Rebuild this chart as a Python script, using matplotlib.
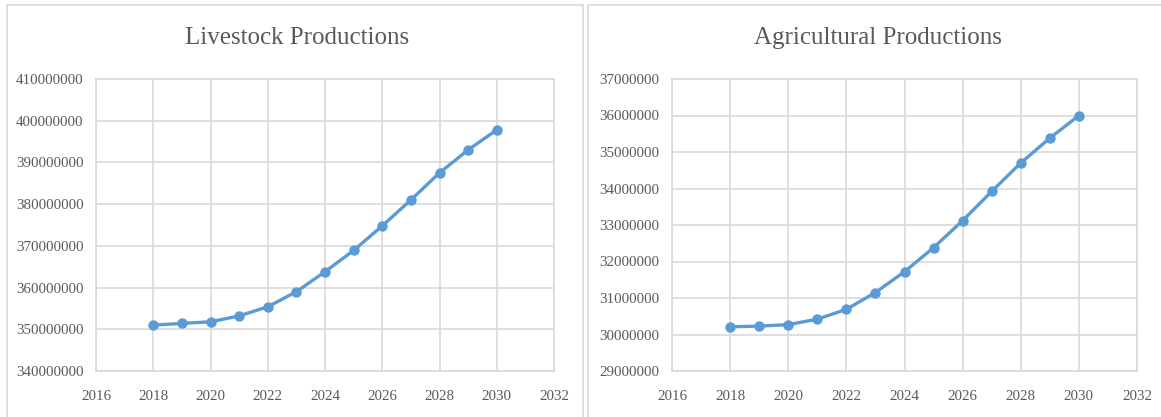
import matplotlib.pyplot as plt
from matplotlib.patches import Rectangle
from matplotlib.ticker import FuncFormatter

years = [2018, 2019, 2020, 2021, 2022, 2023, 2024, 2025, 2026, 2027, 2028, 2029, 2030]
livestock = [351.0e6, 351.4e6, 351.8e6, 353.2e6, 355.4e6, 359.0e6, 363.8e6,
             368.9e6, 374.8e6, 381.0e6, 387.5e6, 393.0e6, 397.8e6]
agricultural = [30.21e6, 30.23e6, 30.27e6, 30.42e6, 30.69e6, 31.15e6, 31.72e6,
                32.38e6, 33.12e6, 33.92e6, 34.70e6, 35.38e6, 36.00e6]

plt.rcParams['font.family'] = ['Liberation Serif', 'DejaVu Serif']
txt = '#595959'
grid = '#D9D9D9'
blue = '#5B9BD5'

W, H = 1161, 417
fig = plt.figure(figsize=(W / 100, H / 100), dpi=100)

# panel frames
for x0, x1 in [(7, 583), (588, 1175)]:
    fig.patches.append(Rectangle((x0 / W, -0.01), (x1 - x0) / W, (H - 5) / H + 0.01,
                                 transform=fig.transFigure, fill=False,
                                 edgecolor='#D9D9D9', lw=1.2))


def panel(rect, data, ylim, step, title, tx):
    ax = fig.add_axes([rect[0] / W, 1 - rect[3] / H, (rect[2] - rect[0]) / W, (rect[3] - rect[1]) / H])
    ax.plot(years, data, color=blue, lw=2.4, marker='o', ms=6.5, zorder=3)
    ax.set_xlim(2016, 2032)
    ax.set_ylim(*ylim)
    ax.set_xticks(range(2016, 2033, 2))
    ax.set_yticks(range(int(ylim[0]), int(ylim[1]) + 1, step))
    ax.yaxis.set_major_formatter(FuncFormatter(lambda v, p: f'{int(v)}'))
    ax.grid(True, color=grid, lw=1.2)
    ax.set_axisbelow(True)
    for s in ax.spines.values():
        s.set_color(grid)
        s.set_linewidth(1.2)
    ax.tick_params(length=0, labelsize=10.8, labelcolor=txt)
    ax.tick_params(axis='y', pad=9)
    ax.tick_params(axis='x', pad=14)
    fig.text(tx / W, 1 - 38 / H, title, ha='center', va='center', fontsize=18, color=txt)
    return ax


panel((96, 79, 554, 371), livestock, (340e6, 410e6), 10_000_000, 'Livestock Productions', 297)
panel((672, 79, 1137, 371), agricultural, (29e6, 37e6), 1_000_000, 'Agricultural Productions', 878)

fig.savefig('out.png', dpi=100)
